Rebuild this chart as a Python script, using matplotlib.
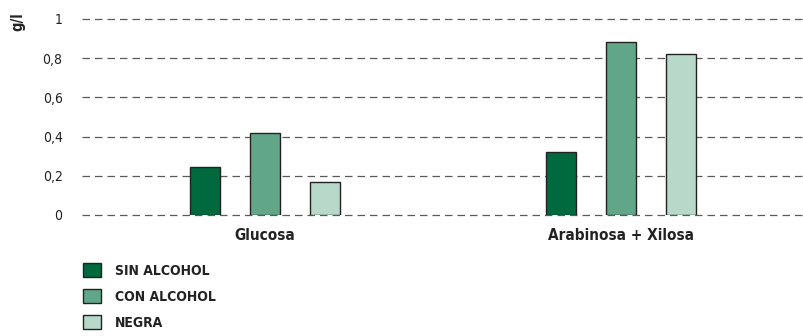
import numpy as np
import matplotlib.pyplot as plt
from matplotlib.patches import Patch

plt.rcParams['font.family'] = ['DejaVu Sans']
plt.rcParams['font.stretch'] = 'condensed'

# sugar content per sample type (g/l)
categories = ['Glucosa', 'Arabinosa + Xilosa']
series_names = ['SIN ALCOHOL', 'CON ALCOHOL', 'NEGRA']
sin_alcohol = [0.245, 0.32]
con_alcohol = [0.42, 0.885]
negra = [0.17, 0.82]
y_ticks = [0, 0.2, 0.4, 0.6, 0.8, 1]
y_tick_labels = ['0', '0,2', '0,4', '0,6', '0,8', '1']

colors = ['#006a3e', '#62a68a', '#b8d8ca']

fig = plt.figure(figsize=(8.04, 3.36), dpi=100)
ax = fig.add_axes([82 / 804, 121 / 336, 722 / 804, 196 / 336])

x = np.arange(len(categories))
width = 0.085
offsets = [-0.168, 0, 0.168]
for vals, off, col in zip([sin_alcohol, con_alcohol, negra], offsets, colors):
    ax.bar(x + off, vals, width, color=col, edgecolor='#222222', linewidth=1.0, zorder=3)

ax.set_xlim(-0.514, 1.514)
ax.set_ylim(0, 1)
ax.set_yticks(y_ticks)
ax.set_yticklabels(y_tick_labels, fontsize=10, color='#222222')
ax.set_xticks(x)
ax.set_xticklabels(categories, fontsize=11, fontweight='bold', color='#222222')
ax.tick_params(axis='both', length=0)
ax.tick_params(axis='y', pad=14)
ax.tick_params(axis='x', pad=9)
for s in ax.spines.values():
    s.set_visible(False)
ax.yaxis.grid(True, linestyle=(0, (6, 4)), color='#5a5a5a', linewidth=0.9, zorder=0)
for gl in ax.get_ygridlines():
    gl.set_clip_on(False)
ax.set_axisbelow(True)

fig.text(10 / 804, 1 - 22 / 336, 'g/l', rotation=90, fontsize=10.5, fontweight='bold',
         color='#222222', ha='left', va='center')

handles = [Patch(facecolor=c, edgecolor='#222222', linewidth=1.0) for c in colors]
fig.legend(handles, series_names, loc='upper left', bbox_to_anchor=(71 / 804, 1 - 250 / 336),
           frameon=False, prop={'size': 10, 'weight': 'bold', 'stretch': 'condensed'},
           handlelength=1.25, handleheight=1.25, labelspacing=0.8, handletextpad=1.0,
           labelcolor='#222222')

fig.savefig('out.png', dpi=100)
